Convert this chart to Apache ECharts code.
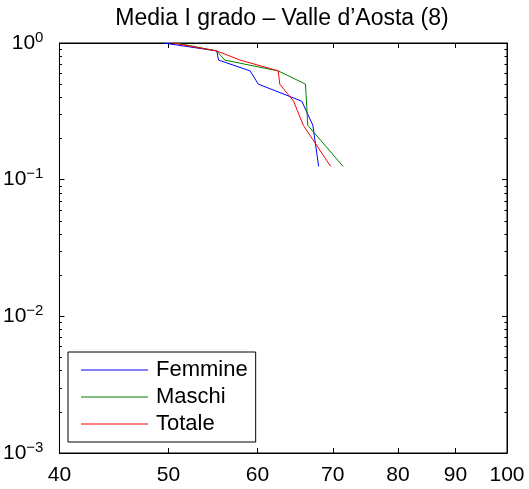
<!DOCTYPE html>
<html>
<head>
<meta charset="utf-8">
<script src="https://cdn.jsdelivr.net/npm/echarts@6/dist/echarts.min.js"></script>
<style>
  html, body { margin: 0; padding: 0; background: #fff; }
  #chart { width: 529px; height: 489px; }
</style>
</head>
<body>
<div id="chart"></div>
<script>
// Survival curves: score (log x) vs. fraction of schools (log y)
const titleText = 'Media I grado \u2013 Valle d\u2019Aosta (8)';
const seriesNames = ['Femmine', 'Maschi', 'Totale'];
const seriesColors = ['#0000ff', '#008000', '#ff0000'];

const femmine = [[49.5, 1], [55.2, 0.875], [55.4, 0.75], [59.1, 0.625], [60.1, 0.5], [65.7, 0.375], [67.2, 0.25], [68.0, 0.125]];
const maschi  = [[50.8, 1], [55.2, 0.875], [56.1, 0.75], [62.6, 0.625], [66.2, 0.5], [66.5, 0.25], [71.5, 0.125]];
const totale  = [[50.4, 1], [55.2, 0.875], [57.9, 0.75], [62.6, 0.625], [62.8, 0.5], [64.6, 0.375], [65.9, 0.25], [69.7, 0.125]];

const xTickLabels = [40, 50, 60, 70, 80, 90, 100];
const xInnerTicks = [50, 60, 70, 80, 90];
const yMajorTicks = [0.001, 0.01, 0.1, 1];
const yMinorTicks = [];
for (let e = -3; e < 0; e++) {
  for (let m = 2; m <= 9; m++) yMinorTicks.push(m * Math.pow(10, e));
}

const FONT = '"Liberation Sans", Arial, Helvetica, sans-serif';
const black = '#000';
// legend key: a plain horizontal stroke (the empty sub-paths only fix the icon box)
const lineKey = 'path://M0,0L67,0L67,0Z M0,6.5L67,6.5L67,7.5L0,7.5Z M0,14L67,14L67,14Z';

function xAxisDef(position, withLabels) {
  return {
    type: 'log', logBase: 10, min: 40, max: 100, position: position,
    axisLine: { show: true, onZero: false, lineStyle: { color: black, width: 1 } },
    axisTick: { show: true, inside: true, length: 5, customValues: xInnerTicks, lineStyle: { color: black } },
    axisLabel: withLabels ? {
      show: true, customValues: xTickLabels, margin: 12,
      color: black, fontSize: 21, fontFamily: FONT,
      formatter: v => String(Math.round(v))
    } : { show: false },
    splitLine: { show: false }, minorTick: { show: false }
  };
}

function yAxisDef(position, ticks, len, withLabels, showLine) {
  return {
    type: 'log', logBase: 10, min: 0.001, max: 1, position: position, offset: 0,
    axisLine: { show: showLine, onZero: false, lineStyle: { color: black, width: 1 } },
    axisTick: { show: true, inside: true, length: len, customValues: ticks, lineStyle: { color: black } },
    axisLabel: withLabels ? {
      show: true, customValues: yMajorTicks, margin: 16,
      formatter: v => {
        const e = Math.round(Math.log10(v));
        return '{b|10}{s|' + (e < 0 ? '\u2212' + (-e) : String(e)) + '}';
      },
      rich: {
        b: { fontSize: 21, fontFamily: FONT, color: black, lineHeight: 26 },
        s: { fontSize: 15, fontFamily: FONT, color: black, verticalAlign: 'top', lineHeight: 13 }
      }
    } : { show: false },
    splitLine: { show: false }, minorTick: { show: false }
  };
}

const chart = echarts.init(document.getElementById('chart'), null, { renderer: 'canvas' });
chart.setOption({
  animation: false,
  backgroundColor: '#fff',
  grid: { left: 57, right: 22, top: 43, bottom: 36, show: true, borderColor: black, borderWidth: 1, backgroundColor: 'transparent' },
  xAxis: [xAxisDef('bottom', true), xAxisDef('top', false)],
  yAxis: [
    yAxisDef('left', yMajorTicks, 5, true, true),
    yAxisDef('left', yMinorTicks, 2.5, false, false),
    yAxisDef('right', yMajorTicks, 5, false, true),
    yAxisDef('right', yMinorTicks, 2.5, false, false)
  ],
  legend: {
    orient: 'vertical', left: 68, top: 352,
    data: seriesNames.map(n => ({ name: n, icon: lineKey })),
    backgroundColor: '#fff', borderColor: black, borderWidth: 1,
    padding: [7, 8, 7, 13],
    itemWidth: 67, itemHeight: 14, itemGap: 5,
    textStyle: { fontSize: 22, fontFamily: FONT, color: black, padding: [0, 0, 0, 3] }
  },
  graphic: [{
    type: 'text', x: 282, y: 19,
    style: { text: titleText, fontSize: 23, fontFamily: FONT, fill: black, align: 'center', verticalAlign: 'middle' }
  }],
  series: [femmine, maschi, totale].map((d, i) => ({
    name: seriesNames[i], type: 'line', data: d,
    xAxisIndex: 0, yAxisIndex: 0,
    symbol: 'none', showSymbol: false, clip: true,
    lineStyle: { color: seriesColors[i], width: 1 },
    itemStyle: { color: seriesColors[i] }
  }))
});
</script>
</body>
</html>
